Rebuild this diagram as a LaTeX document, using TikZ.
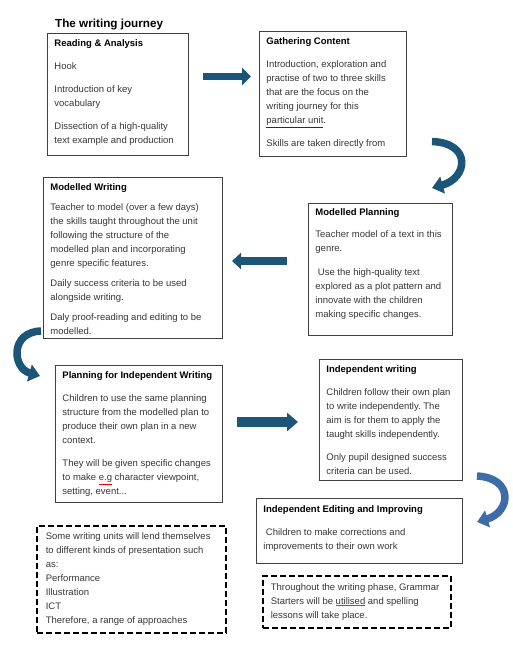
\documentclass[tikz,border=0pt]{standalone}
\usepackage{fontspec}
\setmainfont{Liberation Sans}
\usetikzlibrary{arrows.meta}
\definecolor{jteal}{RGB}{27,86,120}
\definecolor{jblue}{RGB}{62,108,168}
\definecolor{jtext}{RGB}{55,55,55}
\frenchspacing
\newcommand{\stagehead}[1]{\rule{0pt}{13.5pt}\textbf{\color{black}#1}}
\newcommand{\spellmark}[2]{{\color{#1}\underline{\color{jtext}#2}}}

\begin{document}
\begin{tikzpicture}[x=1pt, y=-1pt,
  stage/.style={draw=black!75, line width=0.9pt, anchor=north west, inner xsep=7pt, inner ysep=0pt, text=jtext, font=\fontsize{9.5}{14}\selectfont},
  note/.style={stage, draw=black, line width=1.6pt, dash pattern=on 6pt off 3pt, inner xsep=9pt},
  blockarrow/.style={jteal, line width=#1},
  bendarrow/.style={line width=7.5pt, -{Triangle[length=11pt,width=17pt]}}
]
\useasboundingbox (0,0) rectangle (513,646);

%title
\node[anchor=base west, inner sep=0pt, font=\fontsize{11.7}{14}\selectfont\bfseries] (title) at (55,27) {The writing journey};

%stages:
\node[stage] (reading) at (47,33) {\parbox[t][122pt][t]{127pt}{\raggedright
\stagehead{Reading \& Analysis}\\[8.5pt]
Hook\\[9pt]
Introduction of key\\
vocabulary\\[9pt]
Dissection of a high-quality\\
text example and production}};

\node[stage] (gathering) at (259,31) {\parbox[t][125pt][t]{133pt}{\raggedright
\stagehead{Gathering Content}\\[8.5pt]
Introduction, exploration and\\
practise of two to three skills\\
that are the focus on the\\
writing journey for this\\
\spellmark{blue!60!purple}{particular unit}.\\[9pt]
Skills are taken directly from}};

\node[stage] (mwriting) at (43,177) {\parbox[t][161pt][t]{165pt}{\raggedright
\stagehead{Modelled Writing}\\[6pt]
Teacher to model (over a few days)\\
the skills taught throughout the unit\\
following the structure of the\\
modelled plan and incorporating\\
genre specific features.\\[6pt]
Daily success criteria to be used\\
alongside writing.\\[6pt]
Daly proof-reading and editing to be\\
modelled.}};

\node[stage] (mplanning) at (308,203) {\parbox[t][132pt][t]{130pt}{\raggedright
\rule{0pt}{12pt}\textbf{\color{black}Modelled Planning}\\[8.5pt]
Teacher model of a text in this\\
genre.\\[9.5pt]
\hspace*{2.5pt}Use the high-quality text\\
explored as a plot pattern and\\
innovate with the children\\
making specific changes.}};

\node[stage] (pindep) at (55,365) {\parbox[t][137pt][t]{153pt}{\raggedright
\stagehead{Planning for Independent Writing}\\[8.5pt]
Children to use the same planning\\
structure from the modelled plan to\\
produce their own plan in a new\\
context.\\[9pt]
They will be given specific changes\\
to make \spellmark{red}{e.g} character viewpoint,\\
setting, event...}};

\node[stage] (iwriting) at (319,359) {\parbox[t][121pt][t]{129pt}{\raggedright
\stagehead{Independent writing}\\[8.5pt]
Children follow their own plan\\
to write independently. The\\
aim is for them to apply the\\
taught skills independently.\\[9pt]
Only pupil designed success\\
criteria can be used.}};

\node[stage] (iediting) at (256,498) {\parbox[t][65pt][t]{192pt}{\raggedright
\rule{0pt}{14.5pt}\textbf{\color{black}Independent Editing and Improving}\\[8.5pt]
\hspace*{2.5pt}Children to make corrections and\\
improvements to their own work}};

%notes:
\node[note] (presentation) at (36,525) {\parbox[t][107pt][t]{171pt}{\raggedright
\rule{0pt}{13.3pt}Some writing units will lend themselves\\
to different kinds of presentation such\\
as:\\
Performance\\
Illustration\\
ICT\\
Therefore, a range of approaches}};

\node[note, inner xsep=8pt] (grammar) at (262,575) {\parbox[t][52pt][t]{172pt}{\raggedright
\rule{0pt}{14.3pt}Throughout the writing phase, Grammar\\
Starters will be \spellmark{blue!70}{utilised} and spelling\\
lessons will take place.}};

%straight arrows
\coordinate (a1s) at (203,76.5);
\coordinate (a1e) at (251,76.5);
\coordinate (a2s) at (287,261);
\coordinate (a2e) at (232,261);
\coordinate (a3s) at (237,422);
\coordinate (a3e) at (298,422);
\draw[blockarrow=7pt, -{Triangle[length=9pt,width=17pt]}] (a1s) -- (a1e);
\draw[blockarrow=8pt, -{Triangle[length=9pt,width=16pt]}] (a2s) -- (a2e);
\draw[blockarrow=9.5pt, -{Triangle[length=11pt,width=18pt]}] (a3s) -- (a3e);

%curved arrows
\coordinate (c1s) at (432,141.5);
\coordinate (c1e) at (432,188);
\coordinate (c2s) at (41,331);
\coordinate (c2e) at (40,376);
\coordinate (c3s) at (477,476);
\coordinate (c3e) at (477,522);
\draw[bendarrow, jteal] (c1s) .. controls (472,143) and (468,178) .. (c1e);
\draw[bendarrow, jteal] (c2s) .. controls (10,332) and (12,368) .. (c2e);
\draw[bendarrow, jblue] (c3s) .. controls (514,478) and (511,512) .. (c3e);

\end{tikzpicture}
\end{document}
